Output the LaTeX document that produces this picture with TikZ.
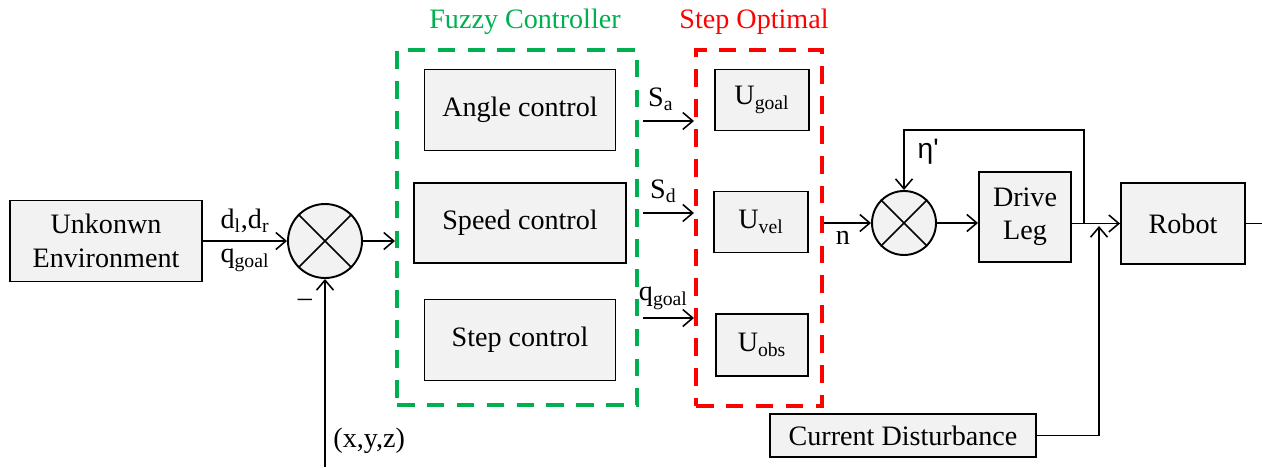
\documentclass[tikz,border=0pt]{standalone}
\usepackage{fontspec}
\setmainfont{Liberation Serif}
\newfontfamily\etafont{Liberation Sans}
\usepackage{tikz}
\usetikzlibrary{shapes, arrows.meta, calc, positioning}
\definecolor{fuzzygreen}{RGB}{0,176,80}
\definecolor{optred}{RGB}{255,0,0}
\definecolor{boxgray}{RGB}{242,242,242}

\begin{document}
\begin{tikzpicture}[>={Straight Barb[length=2mm,width=3.4mm]}, font=\rmfamily\fontsize{16}{19}\selectfont]
	\tikzstyle{block} = [draw, line width=1.1pt, fill=boxgray, align=center, inner sep=0pt]
	\tikzstyle{summer} = [draw, line width=1.1pt, circle, fill=boxgray, inner sep=0pt]
	\tikzstyle{frame} = [line width=2.3pt, dash pattern=on 10pt off 7pt, inner sep=0pt]
	\tikzstyle{sig} = [line width=0.9pt]

	\useasboundingbox (0,0) rectangle (25.24,9.34);

	% input side
	\node[block, minimum width=3.84cm, minimum height=1.62cm] (env) at (2.12,4.52) {Unkonwn\\Environment};
	\node[summer, minimum size=1.48cm] (sum1) at (6.5,4.52) {};
	\draw[sig] (sum1.45) -- (sum1.225) (sum1.135) -- (sum1.315);
	\node (minus) at (6.10,3.28) {--};
	\coordinate (pos) at (6.5,0);

	% fuzzy controller
	\node[frame, draw=fuzzygreen, minimum width=4.8cm, minimum height=7.1cm] (fuzzy) at (10.34,4.79) {};
	\node[text=fuzzygreen] (fuzzytitle) at (10.5,8.9) {Fuzzy Controller};
	\node[block, minimum width=3.82cm, minimum height=1.62cm] (angle) at (10.4,7.14) {Angle control};
	\node[block, minimum width=4.24cm, minimum height=1.6cm] (speed) at (10.4,4.88) {Speed control};
	\node[block, minimum width=3.82cm, minimum height=1.62cm] (stepctl) at (10.4,2.54) {Step control};

	% step optimal
	\node[frame, draw=optred, minimum width=2.52cm, minimum height=7.12cm] (optimal) at (15.18,4.78) {};
	\node[text=optred] (opttitle) at (15.08,8.9) {Step Optimal};
	\node[block, minimum width=1.88cm, minimum height=1.22cm] (ugoal) at (15.24,7.34) {U\textsubscript{goal}};
	\node[block, minimum width=1.88cm, minimum height=1.22cm] (uvel) at (15.22,4.9) {U\textsubscript{vel}};
	\node[block, minimum width=1.84cm, minimum height=1.24cm] (uobs) at (15.24,2.44) {U\textsubscript{obs}};

	% plant side
	\node[summer, minimum size=1.28cm] (sum2) at (18.08,4.88) {};
	\draw[sig] (sum2.45) -- (sum2.225) (sum2.135) -- (sum2.315);
	\node[block, minimum width=1.84cm, minimum height=1.8cm] (drive) at (20.5,5.0) {Drive\\Leg};
	\node[block, minimum width=2.48cm, minimum height=1.62cm] (robot) at (23.66,4.87) {Robot};
	\node[block, minimum width=5.32cm, minimum height=0.86cm] (dist) at (18.06,0.63) {Current Disturbance};
	\coordinate (split) at (21.68,4.87);
	\coordinate (join) at (21.98,4.82);
	\coordinate (out) at (25.24,4.87);

	% signals
	\coordinate (sa) at (12.86,6.92);
	\coordinate (sd) at (12.86,5.08);
	\coordinate (sq) at (12.86,2.98);

	\draw[sig, ->] (env.east) -- (sum1.west)
		node[midway, above=1pt] {d\textsubscript{l},d\textsubscript{r}}
		node[midway, below=1pt] {q\textsubscript{goal}};
	\draw[sig, ->] (pos) -- (sum1.south)
		node[pos=0.14, right=1pt] {(x,y,z)};
	\draw[sig, ->] (sum1.east) -- (sum1.east -| fuzzy.west);

	\draw[sig, ->] (sa) -- (sa -| optimal.west) node[pos=0.35, above=2pt] {S\textsubscript{a}};
	\draw[sig, ->] (sd) -- (sd -| optimal.west) node[pos=0.4, above=2pt] {S\textsubscript{d}};
	\draw[sig, ->] (sq) -- (sq -| optimal.west) node[pos=0.4, above=1pt] {q\textsubscript{goal}};

	\draw[sig, ->] (optimal.east |- sum2.west) -- (sum2.west) node[pos=0.4, below=1pt] {n};
	\draw[sig, ->] (sum2.east) -- (drive.west |- sum2.east);
	\draw[sig, ->] (drive.east |- robot.west) -- (robot.west);
	\draw[sig, ->] (split) -- ++(0,1.87) -| (sum2.north)
		node[pos=0.68, right=4pt] {\etafont η\textquotesingle};
	\draw[sig, ->] (dist.east) -| (join);
	\draw[sig] (robot.east) -- (out);
\end{tikzpicture}
\end{document}
